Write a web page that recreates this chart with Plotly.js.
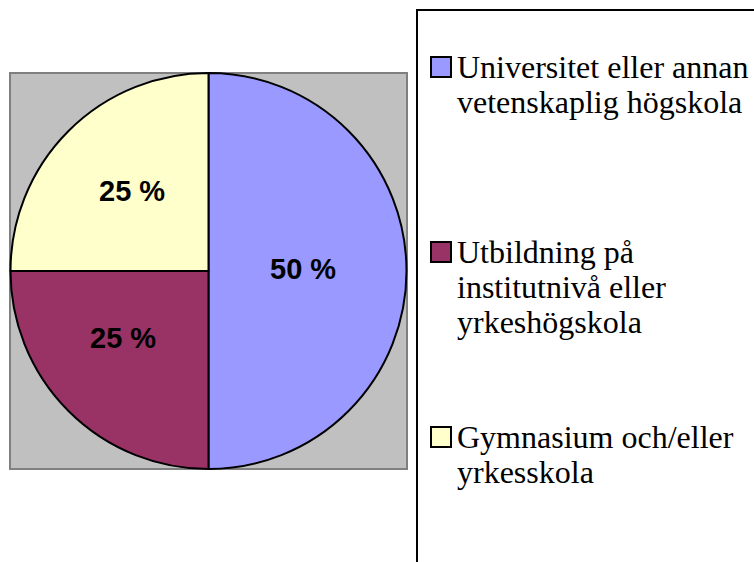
<!DOCTYPE html>
<html>
<head>
<meta charset="utf-8">
<script src="https://cdn.plot.ly/plotly-3.0.1.min.js"></script>
<style>html,body{margin:0;padding:0;background:#fff;}#chart{width:754px;height:562px;}</style>
</head>
<body>
<div id="chart"></div>
<script>
// Data
const categories = ["Universitet eller annan<br>vetenskaplig högskola", "Utbildning på<br>institutnivå eller<br>yrkeshögskola", "Gymnasium och/eller<br>yrkesskola"];
const values = [50, 25, 25];
const sliceLabels = ["50 %", "25 %", "25 %"];
const colors = ["#9999FF", "#993366", "#FFFFCC"];

const W = 754, H = 562;
const px = x => x / W;
const py = y => 1 - y / H;

// plot area (gray square)
const pa = {x0: 10, x1: 407, y0: 73, y1: 469};
const cx = (pa.x0 + pa.x1) / 2, cy = (pa.y0 + pa.y1) / 2, R = (pa.y1 - pa.y0) / 2;

const trace = {
  type: "pie",
  values: values,
  labels: categories,
  textinfo: "none",
  sort: false,
  direction: "clockwise",
  rotation: 0,
  marker: {colors: colors, line: {color: "#000000", width: 2}},
  domain: {x: [px(pa.x0), px(pa.x1)], y: [py(pa.y1), py(pa.y0)]},
  showlegend: false,
  hoverinfo: "none"
};

const shapes = [
  {type: "rect", xref: "paper", yref: "paper", x0: px(pa.x0), x1: px(pa.x1), y0: py(pa.y1), y1: py(pa.y0),
   fillcolor: "#C0C0C0", line: {color: "#808080", width: 2}, layer: "below"},
  {type: "rect", xref: "paper", yref: "paper", x0: px(417), x1: px(770), y0: py(580), y1: py(10),
   fillcolor: "#FFFFFF", line: {color: "#000000", width: 2}, layer: "below"}
];
const annotations = [];

// slice labels placed at each slice's mid-angle (computed from values)
const labelRadius = [0.475, 0.55, 0.56];
const labelNudge = [-1.2, 7, 1.2];
const total = values.reduce((a, b) => a + b, 0);
let cum = 0;
values.forEach((v, i) => {
  const mid = (cum + v / 2) / total * 2 * Math.PI + labelNudge[i] * Math.PI / 180;
  cum += v;
  const x = cx + R * labelRadius[i] * Math.sin(mid);
  const y = cy - R * labelRadius[i] * Math.cos(mid);
  annotations.push({xref: "paper", yref: "paper", x: px(x), y: py(y), xanchor: "center", yanchor: "middle",
    text: "<b>" + sliceLabels[i] + "</b>", showarrow: false,
    font: {family: "'Liberation Sans', Arial, sans-serif", size: 29, color: "#000000"}});
});

// legend
const legendTops = [57, 242, 427];
const lineGap = 35;
categories.forEach((c, i) => {
  const t = legendTops[i];
  shapes.push({type: "rect", xref: "paper", yref: "paper", x0: px(431), x1: px(451), y0: py(t + 20), y1: py(t),
    fillcolor: colors[i], line: {color: "#000000", width: 2}});
  c.split("<br>").forEach((line, j) => {
    const baseline = t + 21 + j * lineGap;
    annotations.push({xref: "paper", yref: "paper", x: px(455), y: py(baseline - 11), xanchor: "left", yanchor: "middle",
      text: line, showarrow: false, align: "left",
      font: {family: "'Liberation Serif', 'Times New Roman', serif", size: 32, color: "#000000"}});
  });
});

const layout = {
  width: W, height: H,
  margin: {l: 0, r: 0, t: 0, b: 0},
  paper_bgcolor: "#FFFFFF",
  plot_bgcolor: "#FFFFFF",
  shapes: shapes,
  annotations: annotations,
  showlegend: false
};

Plotly.newPlot("chart", [trace], layout, {staticPlot: true});
</script>
</body>
</html>
